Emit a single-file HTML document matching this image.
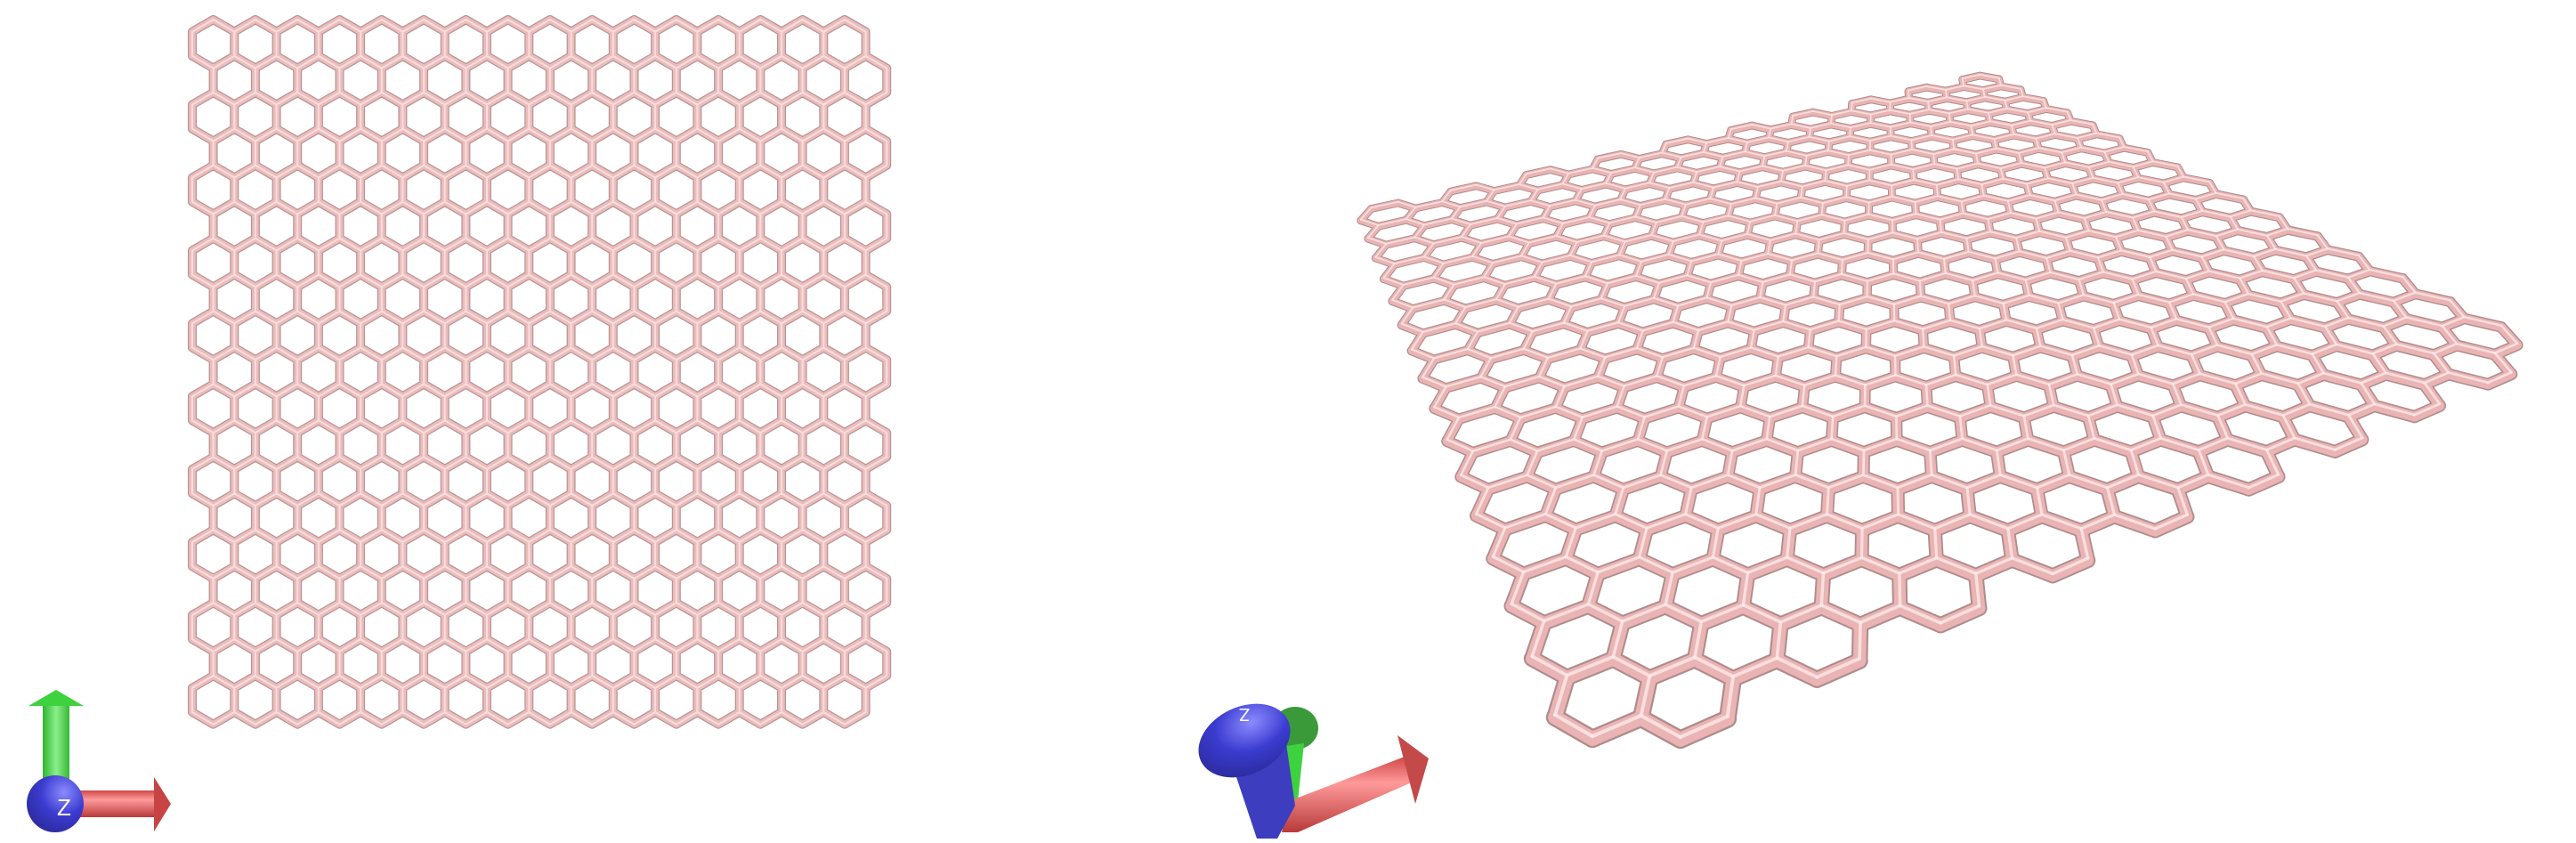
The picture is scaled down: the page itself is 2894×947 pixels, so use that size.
<!DOCTYPE html>
<html><head><meta charset="utf-8"><style>
html,body{margin:0;padding:0;background:#fff;width:2894px;height:947px;overflow:hidden}
svg{display:block}
text{font-family:"Liberation Sans",sans-serif}
</style></head><body>
<svg id="s" width="2894" height="947" viewBox="0 0 2894 947">
<defs>
<linearGradient id="gg" x1="0" x2="1"><stop offset="0" stop-color="#2fb52f"/><stop offset=".5" stop-color="#8af08a"/><stop offset="1" stop-color="#36b836"/></linearGradient>
<linearGradient id="rg" x1="0" y1="0" x2="0" y2="1"><stop offset="0" stop-color="#d04848"/><stop offset=".35" stop-color="#ff9a9a"/><stop offset="1" stop-color="#b83a3a"/></linearGradient>
<radialGradient id="bg" cx=".65" cy=".3" r=".8"><stop offset="0" stop-color="#8b8bff"/><stop offset=".5" stop-color="#3b3bd0"/><stop offset="1" stop-color="#2a2a99"/></radialGradient>
</defs>
<g id="top-view"></g>
<g id="persp-view"></g>
<g>
  <rect x="48" y="790" width="30" height="100" fill="url(#gg)"/>
  <polygon points="32,793 63,775 94,793" fill="#3ed23e"/>
  <rect x="70" y="888" width="105" height="30" fill="url(#rg)"/>
  <polygon points="173,873 192,903 173,934" fill="#c84444"/>
  <circle cx="62" cy="903" r="32" fill="url(#bg)"/>
  <text x="72" y="916" font-size="26" fill="#fff" text-anchor="middle">Z</text>
</g>
<g>
  <ellipse cx="1455" cy="818" rx="26" ry="24" fill="#3a9a3a"/>
  <polygon points="1432,840 1465,835 1458,900 1440,900" fill="#3ed23e"/>
  <polygon points="1448,900 1578,850 1588,878 1458,935 1440,935" fill="url(#rg)"/>
  <polygon points="1570,826 1605,852 1590,903" fill="#c44a4a"/>
  <polygon points="1383,855 1445,835 1455,905 1435,942 1412,942" fill="#3d3dc0"/>
  <ellipse cx="1398" cy="832" rx="54" ry="38" transform="rotate(-25 1398 832)" fill="url(#bg)"/>
  <text x="1398" y="810" font-size="20" fill="#fff" text-anchor="middle" transform="rotate(180 1398 803)">Z</text>
</g>
</svg>
<script>
// lattice parameters
const topGrid = [16, 19];          // columns, rows of the top-view sheet
const perspGrid = [16, 19];        // columns, rows of the perspective sheet
const perspCorners = [[1525,238],[2234,83],[2872,398],[1776,880]];

const NS='http://www.w3.org/2000/svg';
function mk(tag,attrs,parent){const e=document.createElementNS(NS,tag);for(const k in attrs)e.setAttribute(k,attrs[k]);parent.appendChild(e);return e;}

function latticeBonds(cols,rows,a,x0,y0){
  const w=Math.sqrt(3)*a,seen=new Set(),bonds=[];
  for(let r=0;r<rows;r++)for(let c=0;c<cols;c++){
    const cx=x0+w/2+c*w+(r%2?w/2:0),cy=y0+a+r*1.5*a;
    const pts=[];for(let k=0;k<6;k++){const t=(-90+60*k)*Math.PI/180;pts.push([cx+a*Math.cos(t),cy+a*Math.sin(t)]);}
    for(let k=0;k<6;k++){const p=pts[k],q=pts[(k+1)%6];
      const key=[p,q].map(z=>(z[0]).toFixed(2)+','+(z[1]).toFixed(2)).sort().join('|');
      if(!seen.has(key)){seen.add(key);bonds.push([p,q]);}}
  }
  return bonds;
}

// ---- top view
(function(){
  const g=document.getElementById('top-view');
  const bonds=latticeBonds(topGrid[0],topGrid[1],27.3,216,22);
  const layers=[['#b89494',10,1],['#ecbcbc',7.5,1],['#fbe6e6',2,0.8]];
  layers.forEach(L=>{const d=bonds.map(b=>`M${b[0][0].toFixed(1)},${b[0][1].toFixed(1)}L${b[1][0].toFixed(1)},${b[1][1].toFixed(1)}`).join('');
    const p=mk('path',{d:d,stroke:L[0],'stroke-width':L[1],'stroke-opacity':L[2],fill:'none','stroke-linecap':'round'},g);
    
    });
})();

// ---- perspective view (homography of same lattice, rotated 90deg)
(function(){
  const g=document.getElementById('persp-view');
  const [P0,P1,P2,P3]=perspCorners;
  const dx1=P1[0]-P2[0],dx2=P3[0]-P2[0],dx3=P0[0]-P1[0]+P2[0]-P3[0];
  const dy1=P1[1]-P2[1],dy2=P3[1]-P2[1],dy3=P0[1]-P1[1]+P2[1]-P3[1];
  const den=dx1*dy2-dx2*dy1;
  const G=(dx3*dy2-dx2*dy3)/den,H=(dx1*dy3-dx3*dy1)/den;
  const A=P1[0]-P0[0]+G*P1[0],B=P3[0]-P0[0]+H*P3[0],C=P0[0];
  const D=P1[1]-P0[1]+G*P1[1],E=P3[1]-P0[1]+H*P3[1],F=P0[1];
  const cols=perspGrid[0],rows=perspGrid[1],s3=Math.sqrt(3);
  const W=s3*(cols+0.5),Ht=1.5*(rows-1)+2;
  function map(x,y){const u=y/Ht,v=x/W,z=G*u+H*v+1;return[(A*u+B*v+C)/z,(D*u+E*v+F)/z];}
  const raw=latticeBonds(cols,rows,1,0,0);
  const bonds=raw.map(([p,q])=>{
    const mx=(p[0]+q[0])/2,my=(p[1]+q[1])/2;
    const m0=map(mx,my),mu=map(mx+0.1,my),mv=map(mx,my+0.1);
    const su=Math.hypot(mu[0]-m0[0],mu[1]-m0[1])*10,sv=Math.hypot(mv[0]-m0[0],mv[1]-m0[1])*10;
    return {a:map(p[0],p[1]),b:map(q[0],q[1]),w:Math.max(0.36*Math.sqrt(su*sv),8),y:m0[1]};
  });
  bonds.sort((x,y)=>x.y-y.y);
  const layers=[['#b08c8c',1.1,0,1],['#eab4b4',0.85,0,1],['#fde8e8',0.22,-0.15,0.8]];
  layers.forEach(L=>{bonds.forEach(b=>{
    const off=L[2]*b.w;
    const l=mk('line',{x1:b.a[0].toFixed(1),y1:(b.a[1]+off).toFixed(1),x2:b.b[0].toFixed(1),y2:(b.b[1]+off).toFixed(1),stroke:L[0],'stroke-width':(b.w*L[1]).toFixed(2),'stroke-opacity':L[3],'stroke-linecap':'round'},g);
    
    
  });});
})();
</script>
</body></html>
